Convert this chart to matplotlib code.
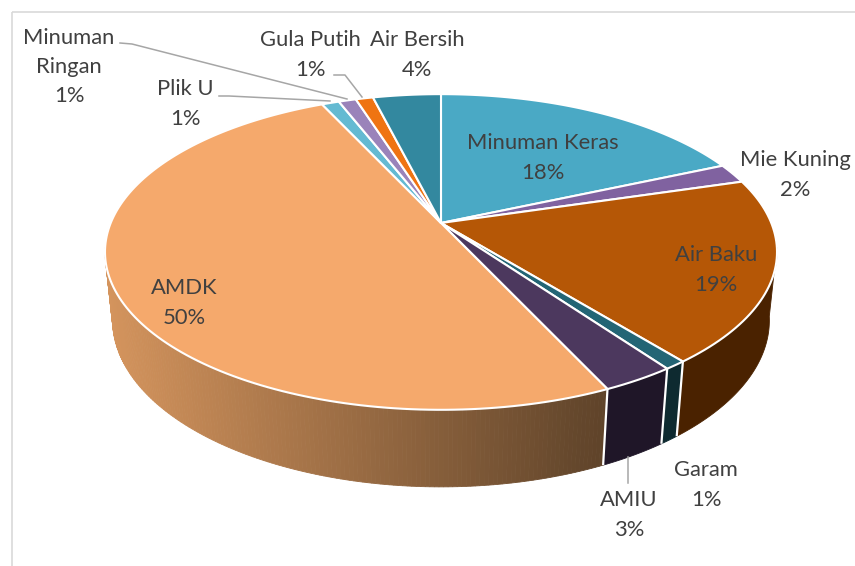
import numpy as np
import matplotlib
matplotlib.use("Agg")
import matplotlib.pyplot as plt
from matplotlib.patches import Polygon, Rectangle

# ---------------- data ----------------
categories = ["Minuman Keras", "Mie Kuning", "Air Baku", "Garam", "AMIU",
              "AMDK", "Plik U", "Minuman Ringan", "Gula Putih", "Air Bersih"]
values = [18.4, 2.0, 18.8, 0.9, 3.0, 50.0, 1.0, 1.0, 1.0, 3.9]
label_names = ["Minuman Keras", "Mie Kuning", "Air Baku", "Garam", "AMIU",
               "AMDK", "Plik U", "Minuman\nRingan", "Gula Putih", "Air Bersih"]

# ---------------- style ----------------
top_colors = ["#4AA9C5", "#8062A0", "#B55706", "#236575", "#4C385E",
              "#F5A96C", "#64BAD2", "#9A83BA", "#EF7412", "#33889F"]
side_colors = ["#2C6676", "#4C3B60", "#4A2200", "#0E2A30", "#1F1628",
               None, "#3C6F7E", "#5C4E70", "#8F460B", "#1F5160"]
amdk_side_light = np.array([212, 148, 93]) / 255
amdk_side_dark = np.array([96, 68, 42]) / 255

# label layout (pixel centres) and leader lines
label_pos = [(543, 158), (795, 175), (716, 270), (706, 485), (629, 515),
             (184, 303), (185, 104), (69, 67), (310, 55), (417, 55)]
leaders = {
    "Minuman Ringan": [(120, 43), (132, 44), (347, 99)],
    "Plik U": [(219, 96), (229, 96), (330, 101)],
    "Gula Putih": [(334, 75), (345, 75), (362, 97)],
    "AMIU": [(628, 483), (628, 457)],
}

W, H = 855, 566
fig = plt.figure(figsize=(W / 100, H / 100), dpi=100)
ax = fig.add_axes([0, 0, 1, 1])
ax.set_xlim(0, W)
ax.set_ylim(H, 0)
ax.axis("off")

# perspective projection of a pie lying on a horizontal plane
F, D, PHI, THICK = 1596.0, 4.832, np.radians(27.5), 0.235
CX, CY = 441.0, 223.0
s_, c_ = np.sin(PHI), np.cos(PHI)


def proj(theta, r=1.0, y=0.0):
    u = r * np.sin(theta)
    v = r * np.cos(theta)
    depth = D - y * s_ + v * c_
    X = F * u / depth
    Yu = F * (y * c_ + v * s_) / depth
    return CX + X, CY - Yu


vals = np.array(values, dtype=float)
fracs = vals / vals.sum()
bounds = np.concatenate([[0], np.cumsum(fracs)]) * 2 * np.pi

# visible side-wall range
vis_lo, vis_hi = np.radians(99), np.radians(261)

# ---- side walls ----
for i, name in enumerate(categories):
    a0, a1 = bounds[i], bounds[i + 1]
    lo, hi = max(a0, vis_lo), min(a1, vis_hi)
    if hi <= lo:
        continue
    if side_colors[i] is None:
        n = 160
        ts = np.linspace(lo, hi, n + 1)
        for k in range(n):
            t = np.array([ts[k], ts[k + 1]])
            xt, yt = proj(t, 1.0, 0.0)
            xb, yb = proj(t[::-1], 1.0, -THICK)
            xm = 0.5 * (xt[0] + xt[1])
            f = np.clip((xm - 105) / (600 - 105), 0, 1)
            col = amdk_side_light * (1 - f) + amdk_side_dark * f
            ax.add_patch(Polygon(np.column_stack([np.r_[xt, xb], np.r_[yt, yb]]),
                                 closed=True, facecolor=col, edgecolor=col,
                                 lw=0.6, zorder=1))
    else:
        ts = np.linspace(lo, hi, 80)
        xt, yt = proj(ts, 1.0, 0.0)
        xb, yb = proj(ts[::-1], 1.0, -THICK)
        ax.add_patch(Polygon(np.column_stack([np.r_[xt, xb], np.r_[yt, yb]]),
                             closed=True, facecolor=side_colors[i],
                             edgecolor=side_colors[i], lw=0.6, zorder=1))

# white seams on the side wall
for b in bounds[:-1]:
    if vis_lo < b < vis_hi:
        xt, yt = proj(b, 1.0, 0.0)
        xb, yb = proj(b, 1.0, -THICK)
        ax.plot([xt, xb], [yt, yb], color="white", lw=1.6, zorder=2,
                solid_capstyle="butt")

# ---- top faces ----
for i, name in enumerate(categories):
    a0, a1 = bounds[i], bounds[i + 1]
    ts = np.linspace(a0, a1, max(int(300 * fracs[i]), 6))
    xa, ya = proj(ts, 1.0, 0.0)
    pts = np.column_stack([np.r_[CX, xa], np.r_[CY, ya]])
    ax.add_patch(Polygon(pts, closed=True, facecolor=top_colors[i],
                         edgecolor="white", lw=1.5, joinstyle="round", zorder=3))

# ---- leader lines ----
for key, pts in leaders.items():
    pts = np.array(pts)
    ax.plot(pts[:, 0], pts[:, 1], color="#A6A6A6", lw=1.1, zorder=4)

# ---- labels ----
for i, nm in enumerate(label_names):
    x, y = label_pos[i]
    pct = int(round(fracs[i] * 100))
    ax.text(x, y, f"{nm}\n{pct}%", ha="center", va="center", fontsize=15.8,
            family=["Lato", "DejaVu Sans"], color="#404040",
            linespacing=1.58, zorder=5)

# chart border
ax.add_patch(Rectangle((12, 12), 900, 600, fill=False, edgecolor="#D9D9D9",
                       lw=1.2, zorder=0))

fig.savefig("out.png", dpi=100)
